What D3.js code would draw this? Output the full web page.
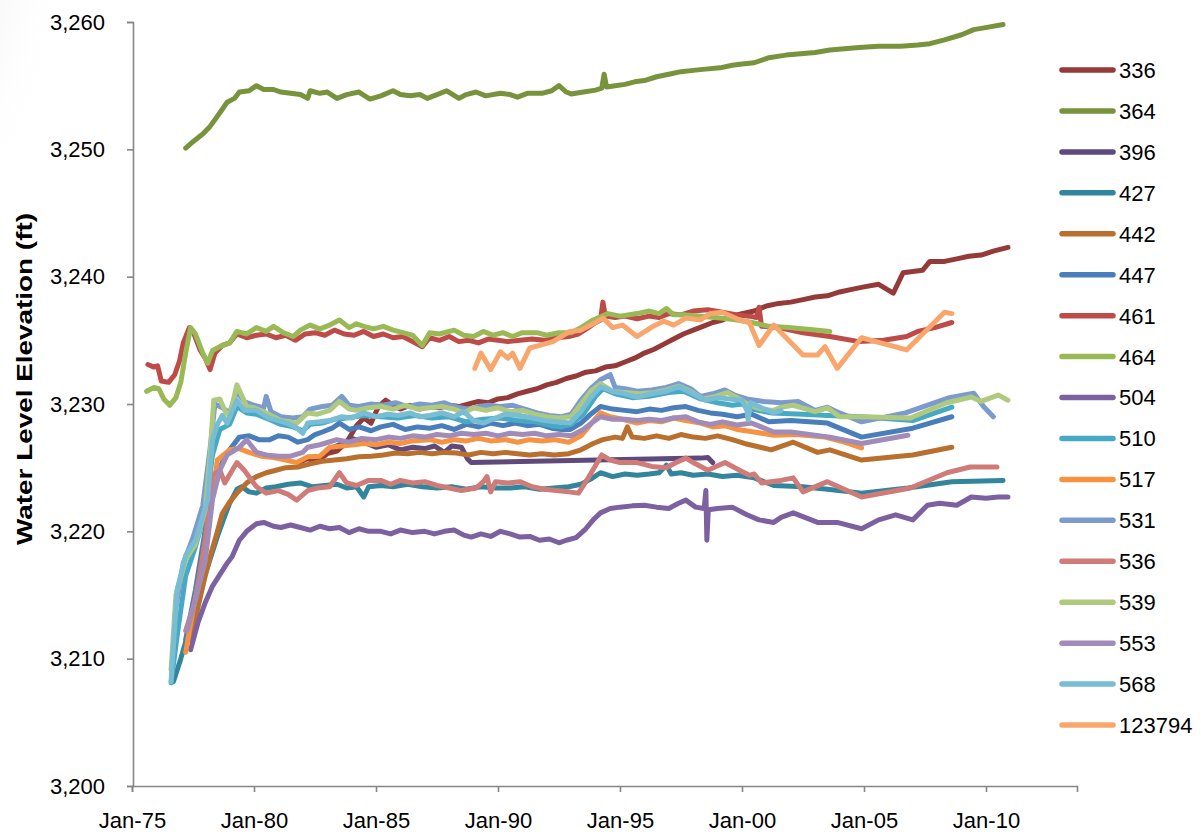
<!DOCTYPE html>
<html>
<head>
<meta charset="utf-8">
<script src="https://cdn.jsdelivr.net/npm/d3@7"></script>
<style>
  html, body { margin: 0; padding: 0; background: #ffffff; }
  svg { display: block; font-family: "Liberation Sans", Arial, sans-serif; }
</style>
</head>
<body>
<svg id="chart" width="1201" height="835"></svg>
<script>
// Well identifiers, in legend order
const wells = ["336", "364", "396", "427", "442", "447", "461", "464", "504",
               "510", "517", "531", "536", "539", "553", "568", "123794"];

const palette = ["#943b39", "#77933c", "#604a7b", "#31859c", "#b9702f", "#4a7ebb",
                 "#be4b48", "#98b954", "#7d60a0", "#46aac5", "#f69240", "#7b9bce",
                 "#cf7b78", "#afc97e", "#a08bb9", "#78bdd3", "#f9a66c"];

// Axis ticks
const yearTicks = [1975, 1980, 1985, 1990, 1995, 2000, 2005, 2010];
const yearLabels = ["Jan-75", "Jan-80", "Jan-85", "Jan-90", "Jan-95", "Jan-00", "Jan-05", "Jan-10"];
const elevTicks = [3200, 3210, 3220, 3230, 3240, 3250, 3260];

// Water level records: [decimal year, elevation ft]
const w336 = [[1981.8,3225.4],[1982.2,3225.7],[1982.6,3225.5],[1983.0,3226.1],[1983.4,3226.3],[1983.8,3227.0],[1984.2,3228.3],[1984.5,3228.9],[1984.8,3228.5],[1985.1,3229.8],[1985.4,3230.3],[1985.7,3229.9],[1986.0,3229.6],[1986.4,3229.9],[1986.8,3229.6],[1987.2,3229.8],[1987.6,3229.7],[1988.0,3229.9],[1988.4,3229.8],[1988.8,3230.0],[1989.2,3230.2],[1989.6,3230.1],[1990.0,3230.4],[1990.4,3230.5],[1990.8,3230.8],[1991.2,3231.0],[1991.6,3231.2],[1992.0,3231.5],[1992.4,3231.7],[1992.8,3232.0],[1993.2,3232.2],[1993.6,3232.5],[1994.0,3232.6],[1994.4,3232.9],[1994.8,3233.0],[1995.2,3233.3],[1995.6,3233.6],[1996.0,3234.0],[1996.4,3234.3],[1996.8,3234.7],[1997.2,3235.1],[1997.6,3235.5],[1998.0,3235.8],[1998.4,3236.1],[1998.8,3236.4],[1999.2,3236.6],[1999.6,3236.9],[2000.0,3237.1],[2000.5,3237.3],[2001.0,3237.7],[2001.5,3237.9],[2002.0,3238.0],[2002.5,3238.2],[2003.0,3238.4],[2003.5,3238.5],[2004.0,3238.8],[2004.5,3239.0],[2005.0,3239.2],[2005.6,3239.4],[2006.2,3238.7],[2006.6,3240.3],[2007.0,3240.4],[2007.4,3240.5],[2007.7,3241.2],[2008.3,3241.2],[2008.8,3241.4],[2009.3,3241.6],[2009.8,3241.7],[2010.3,3242.0],[2010.9,3242.3]];

const w364 = [[1977.2,3250.1],[1977.5,3250.6],[1977.9,3251.2],[1978.2,3251.8],[1978.5,3252.6],[1978.9,3253.7],[1979.2,3254.0],[1979.4,3254.5],[1979.8,3254.6],[1980.1,3255.0],[1980.4,3254.7],[1980.8,3254.7],[1981.1,3254.5],[1981.5,3254.4],[1981.9,3254.3],[1982.2,3254.0],[1982.3,3254.6],[1982.7,3254.4],[1983.0,3254.5],[1983.4,3254.0],[1983.8,3254.3],[1984.3,3254.5],[1984.75,3253.95],[1985.2,3254.2],[1985.7,3254.6],[1986.0,3254.3],[1986.4,3254.2],[1986.8,3254.3],[1987.1,3254.0],[1987.5,3254.3],[1987.9,3254.6],[1988.4,3254.0],[1988.7,3254.3],[1989.1,3254.5],[1989.5,3254.2],[1990.1,3254.4],[1990.5,3254.3],[1990.8,3254.1],[1991.2,3254.4],[1991.8,3254.4],[1992.2,3254.6],[1992.5,3255.0],[1992.8,3254.5],[1993.0,3254.35],[1993.5,3254.5],[1994.0,3254.65],[1994.25,3254.8],[1994.35,3255.9],[1994.45,3254.9],[1994.8,3255.0],[1995.2,3255.1],[1995.6,3255.3],[1996.0,3255.4],[1996.5,3255.7],[1997.0,3255.9],[1997.5,3256.1],[1998.0,3256.2],[1998.5,3256.3],[1999.1,3256.4],[1999.6,3256.6],[2000.0,3256.7],[2000.5,3256.8],[2001.1,3257.2],[2001.8,3257.4],[2002.4,3257.5],[2003.0,3257.6],[2003.6,3257.8],[2004.2,3257.9],[2004.8,3258.0],[2005.6,3258.1],[2006.5,3258.1],[2007.2,3258.2],[2007.7,3258.3],[2008.3,3258.6],[2009.0,3259.0],[2009.5,3259.4],[2010.1,3259.6],[2010.7,3259.8]];

const w396 = [[1983.0,3226.4],[1983.5,3226.8],[1984.0,3227.3],[1984.5,3227.0],[1985.0,3226.6],[1985.5,3226.8],[1986.0,3226.4],[1986.5,3226.6],[1987.0,3226.5],[1987.4,3226.7],[1987.8,3226.2],[1988.1,3226.7],[1988.5,3226.6],[1988.75,3225.7],[1988.9,3225.4],[1998.3,3225.75],[1998.6,3225.8],[1998.8,3225.4]];

const w427 = [[1976.7,3208.2],[1977.0,3210.0],[1977.3,3212.0],[1977.6,3214.0],[1977.9,3216.0],[1978.2,3217.8],[1978.5,3219.6],[1978.8,3221.2],[1979.0,3222.2],[1979.3,3223.3],[1979.5,3223.5],[1979.8,3223.1],[1980.1,3223.0],[1980.5,3223.4],[1980.9,3223.5],[1981.4,3223.7],[1981.9,3223.8],[1982.4,3223.5],[1982.9,3223.6],[1983.4,3223.7],[1983.8,3223.4],[1984.2,3223.5],[1984.5,3222.7],[1984.7,3223.5],[1985.2,3223.6],[1985.7,3223.5],[1986.3,3223.7],[1986.9,3223.5],[1987.5,3223.4],[1988.1,3223.5],[1988.7,3223.3],[1989.3,3223.5],[1989.9,3223.4],[1990.5,3223.4],[1991.1,3223.5],[1991.7,3223.3],[1992.3,3223.4],[1992.9,3223.5],[1993.4,3223.7],[1993.8,3224.1],[1994.2,3224.6],[1994.7,3224.3],[1995.2,3224.5],[1995.7,3224.4],[1996.2,3224.5],[1996.6,3224.6],[1996.9,3225.2],[1997.1,3224.5],[1997.5,3224.6],[1998.0,3224.4],[1998.6,3224.5],[1999.2,3224.3],[1999.8,3224.4],[2000.5,3224.2],[2001.3,3223.6],[2002.5,3223.5],[2003.5,3223.3],[2004.9,3223.0],[2006.8,3223.4],[2008.6,3223.9],[2010.7,3224.0]];

const w442 = [[1977.4,3211.5],[1977.7,3214.0],[1978.0,3216.5],[1978.2,3218.0],[1978.5,3220.0],[1978.7,3221.4],[1979.0,3222.3],[1979.3,3223.0],[1979.7,3223.8],[1980.1,3224.3],[1980.5,3224.6],[1980.9,3224.8],[1981.3,3225.0],[1981.8,3225.05],[1982.3,3225.3],[1982.8,3225.5],[1983.3,3225.6],[1983.8,3225.7],[1984.3,3225.85],[1984.8,3225.9],[1985.3,3226.0],[1985.8,3226.15],[1986.3,3226.1],[1986.8,3226.2],[1987.3,3226.1],[1987.8,3226.2],[1988.3,3226.15],[1988.8,3226.0],[1989.3,3226.2],[1989.8,3226.1],[1990.3,3226.2],[1990.8,3226.1],[1991.3,3226.0],[1991.8,3226.1],[1992.3,3226.0],[1992.9,3226.1],[1993.4,3226.4],[1993.9,3226.9],[1994.3,3227.2],[1994.8,3227.4],[1995.1,3227.3],[1995.3,3228.2],[1995.5,3227.4],[1996.0,3227.3],[1996.5,3227.5],[1997.0,3227.3],[1997.5,3227.6],[1998.0,3227.4],[1998.5,3227.3],[1999.0,3227.5],[1999.6,3227.2],[2000.1,3226.9],[2001.2,3226.4],[2002.1,3227.0],[2003.1,3226.2],[2003.6,3226.4],[2004.9,3225.6],[2007.0,3226.0],[2008.6,3226.6]];

const w447 = [[1977.2,3211.5],[1977.6,3215.4],[1978.0,3220.1],[1978.3,3224.0],[1978.6,3225.05],[1979.0,3226.4],[1979.4,3227.4],[1979.8,3227.5],[1980.2,3227.2],[1980.65,3227.2],[1981.0,3227.5],[1981.4,3227.4],[1981.8,3227.0],[1982.2,3227.2],[1982.5,3227.6],[1982.8,3227.8],[1983.2,3228.1],[1983.5,3228.5],[1983.9,3228.0],[1984.3,3228.2],[1984.8,3227.9],[1985.2,3228.2],[1985.7,3228.4],[1986.2,3228.0],[1986.7,3228.2],[1987.2,3228.1],[1987.7,3228.3],[1988.2,3228.0],[1988.7,3228.4],[1989.2,3228.2],[1989.7,3228.5],[1990.2,3228.3],[1990.7,3228.5],[1991.2,3228.3],[1991.7,3228.4],[1992.2,3228.1],[1992.6,3228.0],[1992.95,3228.0],[1993.4,3228.5],[1993.8,3229.2],[1994.2,3229.8],[1994.7,3229.6],[1995.2,3229.5],[1995.7,3229.4],[1996.2,3229.6],[1996.7,3229.5],[1997.2,3229.7],[1997.7,3229.8],[1998.2,3229.5],[1998.7,3229.3],[1999.2,3229.2],[1999.8,3229.0],[2000.4,3229.2],[2001.1,3228.6],[2002.0,3228.7],[2003.5,3228.5],[2004.9,3227.4],[2007.0,3228.1],[2008.6,3229.0]];

const w461 = [[1975.65,3233.1],[1975.9,3232.9],[1976.05,3233.0],[1976.2,3231.8],[1976.5,3231.7],[1976.75,3232.3],[1976.95,3233.4],[1977.1,3234.8],[1977.35,3236.0],[1977.5,3235.7],[1977.8,3234.2],[1978.0,3233.6],[1978.2,3232.7],[1978.4,3234.0],[1978.7,3234.6],[1979.0,3234.8],[1979.3,3235.5],[1979.7,3235.2],[1980.1,3235.4],[1980.5,3235.5],[1980.9,3235.2],[1981.3,3235.4],[1981.7,3235.0],[1982.1,3235.5],[1982.5,3235.6],[1982.9,3235.4],[1983.3,3235.8],[1983.7,3235.5],[1984.1,3235.4],[1984.5,3235.7],[1984.9,3235.3],[1985.3,3235.5],[1985.7,3235.2],[1986.1,3235.3],[1986.5,3234.9],[1986.9,3234.5],[1987.2,3235.2],[1987.6,3235.0],[1988.0,3235.3],[1988.4,3234.9],[1988.8,3235.0],[1989.2,3234.8],[1989.6,3235.1],[1990.0,3235.0],[1990.4,3234.9],[1990.9,3235.0],[1991.4,3235.1],[1991.9,3235.0],[1992.4,3235.2],[1992.9,3235.3],[1993.3,3235.5],[1993.7,3236.0],[1994.0,3236.4],[1994.2,3236.6],[1994.3,3238.0],[1994.4,3236.9],[1994.8,3236.8],[1995.2,3236.9],[1995.7,3236.7],[1996.2,3236.9],[1996.6,3236.8],[1997.0,3237.1],[1997.5,3237.0],[1998.0,3237.3],[1998.6,3237.4],[1999.2,3237.2],[1999.8,3237.0],[2000.3,3236.9],[2000.6,3236.8],[2000.7,3237.6],[2000.8,3236.1],[2001.5,3236.0],[2002.5,3235.6],[2003.6,3235.3],[2004.8,3234.9],[2005.8,3235.0],[2006.75,3235.3],[2007.2,3235.7],[2007.9,3236.0],[2008.6,3236.4]];

const w464 = [[1975.6,3231.0],[1975.9,3231.3],[1976.1,3231.2],[1976.3,3230.4],[1976.55,3229.9],[1976.8,3230.5],[1977.0,3231.7],[1977.2,3234.0],[1977.4,3236.0],[1977.6,3235.5],[1977.9,3234.0],[1978.1,3233.2],[1978.3,3234.2],[1978.6,3234.5],[1979.0,3234.8],[1979.3,3235.7],[1979.7,3235.5],[1980.1,3236.0],[1980.5,3235.7],[1980.8,3236.1],[1981.2,3235.6],[1981.6,3235.3],[1981.9,3235.8],[1982.3,3236.2],[1982.7,3235.9],[1983.1,3236.2],[1983.5,3236.6],[1983.9,3236.0],[1984.2,3236.3],[1984.5,3236.1],[1984.9,3235.9],[1985.3,3236.1],[1985.7,3235.8],[1986.1,3235.6],[1986.5,3235.4],[1986.9,3234.6],[1987.2,3235.6],[1987.6,3235.5],[1988.2,3235.8],[1988.6,3235.4],[1989.0,3235.3],[1989.4,3235.7],[1989.8,3235.4],[1990.2,3235.6],[1990.6,3235.3],[1991.0,3235.6],[1991.6,3235.6],[1992.0,3235.4],[1992.5,3235.6],[1993.0,3235.6],[1993.4,3236.0],[1993.9,3236.6],[1994.5,3237.1],[1995.0,3236.9],[1995.7,3237.1],[1996.2,3237.3],[1996.6,3237.1],[1996.9,3237.5],[1997.2,3237.0],[1997.7,3237.0],[1998.3,3236.9],[1998.9,3236.8],[1999.4,3236.7],[1999.8,3236.6],[2000.4,3236.4],[2001.1,3236.1],[2001.9,3236.0],[2002.8,3235.85],[2003.6,3235.7]];

const w504 = [[1977.4,3210.7],[1977.7,3212.8],[1978.0,3214.4],[1978.3,3215.7],[1978.6,3216.6],[1978.9,3217.5],[1979.1,3218.0],[1979.4,3219.3],[1979.7,3220.0],[1980.1,3220.6],[1980.4,3220.7],[1980.8,3220.4],[1981.1,3220.3],[1981.5,3220.5],[1981.9,3220.3],[1982.3,3220.1],[1982.7,3220.4],[1983.1,3220.2],[1983.5,3220.3],[1983.9,3219.9],[1984.3,3220.2],[1984.7,3220.0],[1985.2,3220.0],[1985.6,3219.8],[1986.0,3220.1],[1986.5,3219.9],[1987.0,3220.0],[1987.4,3219.8],[1987.8,3220.0],[1988.2,3220.1],[1988.6,3219.7],[1988.9,3219.55],[1989.3,3219.8],[1989.7,3219.6],[1990.1,3220.0],[1990.5,3219.8],[1990.9,3219.55],[1991.3,3219.6],[1991.7,3219.3],[1992.1,3219.4],[1992.5,3219.1],[1992.8,3219.3],[1993.2,3219.5],[1993.6,3220.2],[1993.9,3220.9],[1994.2,3221.45],[1994.6,3221.8],[1995.0,3221.9],[1995.5,3222.0],[1996.0,3222.05],[1996.5,3221.9],[1997.0,3221.8],[1997.4,3222.2],[1997.7,3222.45],[1998.1,3221.9],[1998.45,3221.8],[1998.52,3223.2],[1998.56,3219.3],[1998.62,3221.7],[1999.0,3221.8],[1999.6,3221.9],[2000.2,3221.3],[2000.7,3220.9],[2001.3,3220.7],[2001.6,3221.1],[2002.1,3221.45],[2003.1,3220.7],[2003.9,3220.7],[2004.9,3220.2],[2005.6,3220.9],[2006.3,3221.3],[2007.0,3220.9],[2007.6,3222.05],[2008.1,3222.2],[2008.8,3222.05],[2009.4,3222.7],[2010.0,3222.6],[2010.5,3222.7],[2010.9,3222.7]];

const w510 = [[1976.6,3208.1],[1976.9,3212.5],[1977.2,3216.5],[1977.6,3218.8],[1978.0,3221.5],[1978.3,3226.0],[1978.6,3228.0],[1979.0,3228.4],[1979.3,3229.8],[1979.7,3229.3],[1980.1,3229.2],[1980.6,3228.8],[1981.1,3228.4],[1981.6,3228.2],[1982.0,3227.9],[1982.3,3228.4],[1982.8,3228.5],[1983.3,3228.8],[1983.8,3228.9],[1984.5,3229.1],[1985.2,3229.0],[1985.9,3228.9],[1986.6,3229.1],[1987.3,3228.9],[1988.0,3229.0],[1988.7,3228.6],[1989.4,3228.8],[1990.1,3228.9],[1990.8,3228.7],[1991.5,3228.6],[1992.2,3228.3],[1992.6,3228.2],[1993.0,3228.4],[1993.5,3229.2],[1994.0,3230.6],[1994.3,3231.2],[1994.8,3230.8],[1995.5,3230.5],[1996.2,3230.6],[1997.0,3230.9],[1997.6,3231.0],[1998.3,3230.4],[1999.0,3230.1],[1999.6,3229.9],[2000.0,3230.0],[2000.4,3229.6],[2001.2,3229.3],[2002.5,3229.2],[2003.5,3229.1],[2004.9,3229.0],[2007.0,3228.7],[2008.6,3229.75]];

const w517 = [[1977.2,3210.5],[1977.5,3213.8],[1977.9,3217.7],[1978.2,3221.7],[1978.5,3225.6],[1979.0,3226.4],[1979.4,3226.5],[1979.8,3226.2],[1980.3,3225.9],[1980.8,3225.8],[1981.3,3225.6],[1981.75,3225.4],[1982.2,3225.85],[1982.7,3225.9],[1983.1,3226.6],[1983.6,3226.7],[1984.1,3226.8],[1984.5,3226.9],[1985.0,3226.8],[1985.5,3227.0],[1986.0,3226.9],[1986.5,3227.1],[1987.2,3227.2],[1987.7,3227.0],[1988.2,3227.2],[1988.7,3227.1],[1989.2,3227.3],[1989.7,3227.1],[1990.3,3227.2],[1990.8,3227.0],[1991.3,3227.2],[1991.8,3227.1],[1992.3,3227.2],[1992.9,3227.0],[1993.4,3227.5],[1993.8,3228.4],[1994.2,3229.3],[1994.6,3229.0],[1995.1,3228.8],[1995.7,3228.5],[1996.2,3228.7],[1996.7,3228.6],[1997.2,3228.9],[1997.7,3228.7],[1998.3,3228.5],[1998.8,3228.2],[1999.3,3228.3],[1999.8,3228.0],[2000.5,3227.8],[2001.3,3227.55],[2002.2,3227.6],[2003.4,3227.4],[2004.2,3227.0],[2004.9,3226.55]];

const w531 = [[1976.8,3214.0],[1977.1,3217.5],[1977.5,3219.5],[1977.9,3222.0],[1978.2,3226.5],[1978.4,3230.0],[1978.7,3229.7],[1979.0,3229.3],[1979.3,3231.0],[1979.6,3230.2],[1980.0,3229.9],[1980.4,3229.7],[1980.5,3230.6],[1980.7,3229.4],[1981.1,3229.0],[1981.6,3228.9],[1982.0,3229.0],[1982.3,3229.6],[1982.8,3229.8],[1983.2,3229.9],[1983.6,3230.6],[1983.9,3229.9],[1984.3,3229.8],[1984.8,3230.0],[1985.3,3229.9],[1985.8,3230.1],[1986.3,3229.8],[1986.8,3230.0],[1987.3,3229.9],[1987.8,3230.1],[1988.2,3229.8],[1988.8,3229.6],[1989.2,3229.8],[1989.6,3229.9],[1990.1,3229.8],[1990.6,3229.9],[1991.1,3229.6],[1991.6,3229.3],[1992.1,3229.1],[1992.6,3229.0],[1993.0,3229.2],[1993.4,3230.3],[1993.8,3231.2],[1994.2,3231.9],[1994.6,3232.3],[1994.8,3231.3],[1995.2,3231.2],[1995.7,3231.0],[1996.3,3231.1],[1996.9,3231.3],[1997.4,3231.6],[1997.9,3231.2],[1998.3,3230.6],[1998.8,3230.8],[1999.3,3231.1],[1999.7,3230.7],[2000.2,3230.4],[2000.9,3230.2],[2001.6,3230.1],[2002.3,3230.2],[2003.0,3229.5],[2003.5,3229.75],[2004.0,3229.3],[2004.9,3228.6],[2006.7,3229.3],[2008.5,3230.5],[2009.5,3230.85],[2009.9,3229.8],[2010.3,3229.0]];

const w536 = [[1977.2,3212.2],[1977.6,3214.6],[1978.0,3219.3],[1978.3,3224.4],[1978.6,3224.8],[1978.8,3223.8],[1979.3,3225.4],[1979.6,3224.8],[1980.1,3223.5],[1980.5,3223.0],[1981.0,3223.2],[1981.4,3222.9],[1981.75,3222.45],[1982.2,3223.2],[1982.6,3223.4],[1983.1,3223.5],[1983.5,3224.6],[1983.8,3223.8],[1984.2,3223.6],[1984.7,3224.0],[1985.2,3224.0],[1985.6,3223.7],[1986.0,3224.0],[1986.5,3223.8],[1987.0,3223.9],[1987.5,3223.6],[1988.0,3223.4],[1988.5,3223.2],[1989.1,3223.4],[1989.4,3223.9],[1989.55,3224.3],[1989.7,3223.1],[1989.9,3223.9],[1990.4,3223.8],[1990.9,3223.9],[1991.4,3223.5],[1991.9,3223.3],[1992.4,3223.2],[1992.9,3223.1],[1993.3,3223.0],[1993.7,3224.2],[1994.25,3226.0],[1994.6,3225.6],[1995.0,3225.4],[1995.7,3225.4],[1996.3,3225.1],[1996.9,3225.0],[1997.3,3225.4],[1997.7,3225.75],[1998.0,3225.4],[1998.6,3224.8],[1999.3,3225.4],[1999.9,3224.8],[2000.3,3224.4],[2000.5,3224.5],[2000.8,3223.8],[2001.6,3224.0],[2002.1,3224.2],[2002.5,3223.1],[2003.5,3223.9],[2004.9,3222.7],[2006.9,3223.4],[2008.4,3224.6],[2009.35,3225.05],[2010.45,3225.05]];

const w539 = [[1976.6,3209.1],[1976.8,3215.0],[1977.2,3217.8],[1977.6,3219.0],[1978.0,3221.7],[1978.2,3226.0],[1978.35,3230.3],[1978.6,3230.4],[1978.8,3229.5],[1979.0,3229.0],[1979.3,3231.5],[1979.7,3229.8],[1980.0,3229.7],[1980.4,3229.4],[1980.7,3229.1],[1981.1,3228.7],[1981.5,3228.6],[1981.75,3228.5],[1982.2,3229.3],[1982.6,3229.2],[1983.1,3229.5],[1983.5,3230.2],[1983.9,3229.6],[1984.2,3229.5],[1984.7,3229.7],[1985.2,3229.8],[1985.7,3229.6],[1986.2,3229.9],[1986.7,3229.6],[1987.2,3229.7],[1987.7,3229.8],[1988.2,3229.6],[1988.6,3229.3],[1989.0,3229.7],[1989.5,3229.5],[1990.0,3229.7],[1990.5,3229.4],[1991.0,3229.5],[1991.5,3229.2],[1992.0,3229.0],[1992.5,3228.9],[1993.0,3229.0],[1993.4,3230.0],[1993.8,3231.0],[1994.2,3231.6],[1994.7,3231.0],[1995.2,3230.9],[1995.8,3230.8],[1996.4,3230.9],[1996.9,3231.1],[1997.4,3231.4],[1997.9,3231.0],[1998.4,3230.4],[1998.9,3230.6],[1999.4,3230.9],[1999.9,3230.4],[2000.3,3229.9],[2000.8,3229.6],[2001.3,3229.5],[2001.6,3229.75],[2002.1,3229.9],[2003.0,3229.4],[2003.5,3229.7],[2004.0,3229.0],[2004.9,3229.0],[2006.9,3228.9],[2008.4,3230.1],[2009.4,3230.55],[2009.8,3230.2],[2010.5,3230.7],[2010.9,3230.3]];

const w553 = [[1977.25,3212.2],[1977.6,3214.6],[1978.0,3217.7],[1978.3,3222.5],[1978.6,3224.8],[1978.9,3226.0],[1979.4,3226.6],[1979.7,3227.2],[1980.1,3226.2],[1980.5,3226.0],[1981.0,3225.9],[1981.5,3225.9],[1982.0,3226.2],[1982.2,3226.6],[1982.7,3226.8],[1983.4,3227.2],[1983.9,3227.0],[1984.4,3227.3],[1985.0,3227.2],[1985.5,3227.4],[1986.0,3227.3],[1986.5,3227.5],[1987.0,3227.4],[1987.5,3227.6],[1988.0,3227.5],[1988.5,3227.7],[1989.0,3227.6],[1989.5,3227.7],[1990.0,3227.5],[1990.5,3227.7],[1991.0,3227.6],[1991.5,3227.7],[1992.0,3227.5],[1992.5,3227.6],[1993.0,3227.5],[1993.5,3228.0],[1993.9,3228.6],[1994.2,3229.0],[1994.7,3228.8],[1995.2,3228.8],[1995.7,3228.7],[1996.2,3228.8],[1996.7,3228.7],[1997.2,3228.9],[1997.7,3229.0],[1998.2,3228.6],[1998.7,3228.4],[1999.2,3228.6],[1999.8,3228.35],[2000.4,3228.5],[2001.3,3227.8],[2002.0,3227.8],[2003.6,3227.4],[2004.9,3226.9],[2006.8,3227.55]];

const w568 = [[1976.6,3208.2],[1976.85,3215.4],[1977.2,3218.1],[1977.6,3219.3],[1978.1,3222.5],[1978.3,3227.2],[1978.5,3228.4],[1978.7,3229.1],[1978.9,3228.5],[1979.3,3230.3],[1979.6,3229.5],[1980.1,3229.5],[1980.6,3228.9],[1981.0,3228.7],[1981.35,3228.5],[1981.7,3228.2],[1982.0,3227.7],[1982.2,3228.5],[1982.7,3228.6],[1983.1,3228.7],[1983.6,3229.0],[1984.0,3228.9],[1984.5,3229.3],[1985.0,3229.0],[1985.5,3229.2],[1985.9,3229.1],[1986.4,3229.3],[1986.8,3229.0],[1987.2,3229.1],[1987.7,3229.3],[1988.2,3229.0],[1988.6,3229.4],[1989.0,3228.7],[1989.4,3228.5],[1989.9,3228.9],[1990.3,3229.2],[1990.9,3229.1],[1991.4,3228.9],[1991.9,3228.7],[1992.4,3228.6],[1992.95,3228.5],[1993.4,3229.4],[1993.8,3230.5],[1994.2,3231.35],[1994.7,3231.0],[1995.2,3230.8],[1995.7,3230.55],[1996.3,3230.8],[1996.9,3231.0],[1997.4,3231.35],[1997.9,3230.9],[1998.5,3230.3],[1999.0,3230.5],[1999.5,3230.4],[2000.0,3230.3],[2000.2,3229.5],[2000.25,3228.75],[2000.35,3230.1],[2000.8,3229.7],[2001.3,3229.3],[2001.6,3229.5]];

const w123794 = [[1989.05,3232.8],[1989.3,3234.0],[1989.7,3232.7],[1990.1,3234.1],[1990.4,3233.6],[1990.6,3234.0],[1990.9,3232.8],[1991.3,3234.4],[1991.7,3234.6],[1992.25,3234.9],[1992.95,3235.7],[1993.4,3235.8],[1993.8,3236.2],[1994.3,3236.75],[1994.7,3236.0],[1995.1,3236.2],[1995.7,3235.3],[1996.35,3236.1],[1996.8,3236.5],[1997.2,3236.2],[1997.7,3236.75],[1998.3,3236.6],[1998.7,3237.1],[1999.2,3237.2],[1999.9,3236.6],[2000.3,3236.4],[2000.7,3234.6],[2001.3,3236.2],[2002.5,3233.85],[2003.1,3233.85],[2003.4,3234.5],[2003.9,3232.8],[2004.9,3235.2],[2006.75,3234.25],[2007.3,3235.3],[2008.3,3237.2],[2008.6,3237.1]];

const records = [w336, w364, w396, w427, w442, w447, w461, w464, w504,
                 w510, w517, w531, w536, w539, w553, w568, w123794];

// ---- layout ----
const svg = d3.select("#chart");
const plot = { left: 132, right: 1077, top: 22, bottom: 786 };

// soft grey shading in the upper-left corner of the canvas
const defs = svg.append("defs");
const rg = defs.append("radialGradient").attr("id", "cornerShade")
  .attr("cx", "0%").attr("cy", "20%").attr("r", "100%");
rg.append("stop").attr("offset", "0%").attr("stop-color", "#d4d4d4").attr("stop-opacity", 0.55);
rg.append("stop").attr("offset", "100%").attr("stop-color", "#ffffff").attr("stop-opacity", 0);
svg.append("ellipse").attr("cx", 0).attr("cy", 40).attr("rx", 70).attr("ry", 140)
  .attr("fill", "url(#cornerShade)");

const x = d3.scaleLinear().domain([1975, 2013.73]).range([plot.left, plot.right]);
const y = d3.scaleLinear().domain([3200, 3260]).range([plot.bottom, plot.top]);

const axisColor = "#868686";

// y axis
const yAxis = svg.append("g")
  .attr("transform", `translate(${plot.left + 1},0)`)
  .call(d3.axisLeft(y).tickValues(elevTicks).tickFormat(d3.format(",")).tickSize(6).tickPadding(22));
yAxis.select(".domain").attr("stroke", axisColor).attr("stroke-width", 1.6);
yAxis.selectAll(".tick line").attr("stroke", axisColor).attr("stroke-width", 1.6);
yAxis.selectAll(".tick text").attr("fill", "#000").style("font-size", "22px");

// x axis
const xAxis = svg.append("g")
  .attr("transform", `translate(0,${plot.bottom})`)
  .call(d3.axisBottom(x).tickValues(yearTicks)
    .tickFormat((d, i) => yearLabels[i]).tickSize(6).tickPadding(20));
xAxis.select(".domain").attr("stroke", axisColor).attr("stroke-width", 1.6);
xAxis.selectAll(".tick line").attr("stroke", axisColor).attr("stroke-width", 1.6);
xAxis.selectAll(".tick text").attr("fill", "#000").style("font-size", "22px");

// y axis title
svg.append("text")
  .attr("transform", `translate(32,${(plot.top + plot.bottom) / 2 - 25}) rotate(-90)`)
  .attr("text-anchor", "middle")
  .attr("textLength", 332)
  .attr("lengthAdjust", "spacingAndGlyphs")
  .style("font-size", "22px").style("font-weight", "bold")
  .text("Water Level Elevation (ft)");

// series lines
const line = d3.line().x(d => x(d[0])).y(d => y(d[1]));
svg.append("g").selectAll("path")
  .data(records)
  .join("path")
  .attr("d", line)
  .attr("fill", "none")
  .attr("stroke", (d, i) => palette[i])
  .attr("stroke-width", 5)
  .attr("stroke-linejoin", "round")
  .attr("stroke-linecap", "round");

// legend
const legend = svg.append("g");
const rowStep = 40.94;
wells.forEach((name, i) => {
  const ly = 70 + i * rowStep;
  legend.append("line")
    .attr("x1", 1062).attr("x2", 1113).attr("y1", ly).attr("y2", ly)
    .attr("stroke", palette[i]).attr("stroke-width", 5.5).attr("stroke-linecap", "round");
  legend.append("text")
    .attr("x", 1119).attr("y", ly).attr("dy", "0.36em")
    .style("font-size", "22px").text(name);
});
</script>
</body>
</html>
